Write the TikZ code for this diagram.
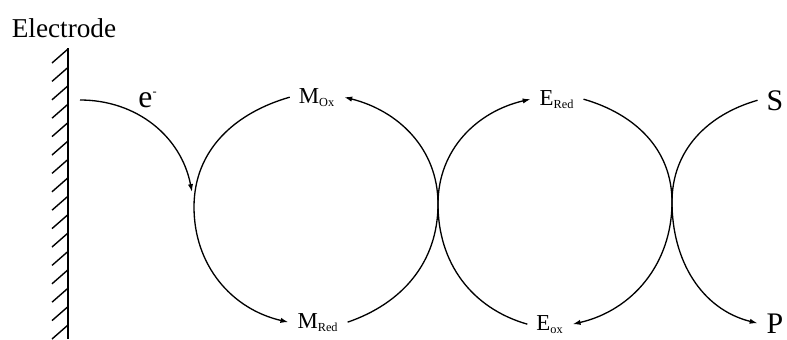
\documentclass[tikz,border=0pt]{standalone}
\usepackage{fontspec}
\setmainfont{Liberation Serif}
\usepackage{tikz}
\usetikzlibrary{arrows.meta}
\newcommand{\chemsub}[1]{\textsubscript{\scriptsize #1}}

\begin{document}
\begin{tikzpicture}[
  x=0.02cm, y=0.02cm,
  lbl/.style={anchor=base, inner xsep=5pt, inner ysep=1pt, font=\fontsize{13}{15}\selectfont},
  biglbl/.style={lbl, font=\fontsize{17}{20}\selectfont},
  arc/.style={-{Latex[length=4.5pt,width=3pt]}, line width=0.75pt},
  hatch/.style={line width=0.8pt}
]
\useasboundingbox (0,0) rectangle (787,339);
\node[anchor=base, inner sep=0pt, font=\fontsize{15.5}{18}\selectfont] (electrode) at (64,302) {Electrode};
\draw[line width=1.1pt] (68,291) -- (68,0);
\foreach \k in {0,...,15}
  \draw[hatch] (52,{276-18.4*\k}) -- (68,{290-18.4*\k});

\node[anchor=base, inner sep=0pt, font=\fontsize{18}{22}\selectfont] (elec) at (148,232) {e\textsuperscript{\scriptsize -}};
\node[lbl] (mox) at (317,236) {M\chemsub{Ox}};
\node[lbl] (mred) at (318,11) {M\chemsub{Red}};
\node[lbl] (ered) at (557,234) {E\chemsub{Red}};
\node[lbl] (eox) at (550,9) {E\chemsub{ox}};
\node[biglbl] (s) at (775,229) {S};
\node[biglbl] (p) at (775,6) {P};

\coordinate (eout) at (80,239);
\coordinate (ein) at (192,147);
\coordinate (tl) at (194,132);
\coordinate (tm) at (438,135);
\coordinate (tr) at (672,137);

\draw[arc] (eout) to[out=0,in=101] (ein);
\draw[arc] (mox.west) to[out=196,in=90] (tl) to[out=-90,in=167] (mred.west);
\draw[arc] (mred.east) to[out=19,in=-90] (tm) to[out=90,in=-14] (mox.east);
\draw[arc] (eox.west) to[out=164,in=-90] (tm) to[out=90,in=-167] (ered.west);
\draw[arc] (ered.east) to[out=-16,in=90] (tr) to[out=-90,in=13] (eox.east);
\draw[arc] (s.west) to[out=196,in=90] (tr) to[out=-90,in=166] (p.west);
\end{tikzpicture}
\end{document}
